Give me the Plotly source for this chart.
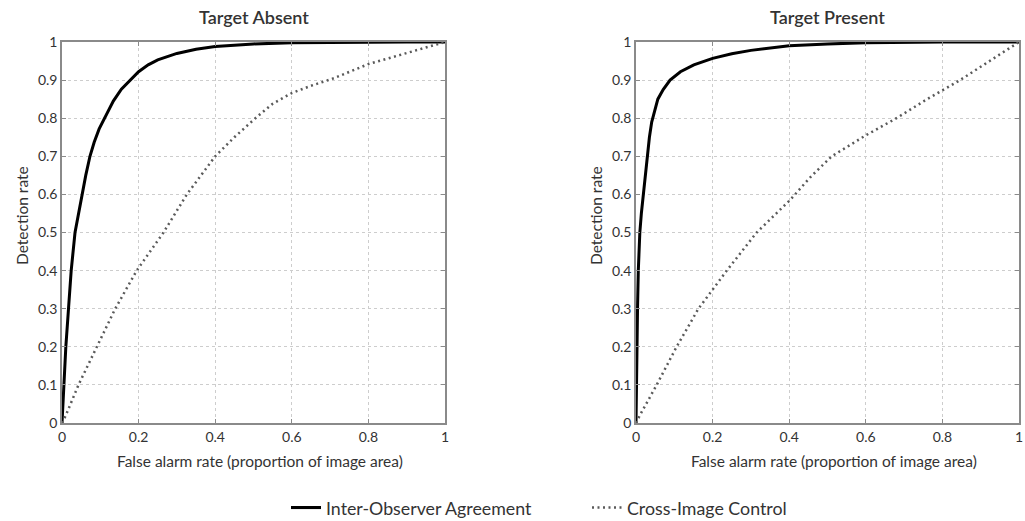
import plotly.graph_objects as go

# ---- data ----
absent_ioa_x = [0, 0.002, 0.005, 0.01, 0.017, 0.024, 0.034, 0.043, 0.052, 0.062, 0.073, 0.084, 0.097,
                0.113, 0.134, 0.155, 0.178, 0.2, 0.225, 0.25, 0.3, 0.35, 0.4, 0.5, 0.6, 0.7, 0.8, 0.9, 1.0]
absent_ioa_y = [0, 0.05, 0.1, 0.2, 0.3, 0.4, 0.5, 0.55, 0.6, 0.65, 0.7, 0.737, 0.772,
                0.805, 0.845, 0.876, 0.9, 0.922, 0.94, 0.953, 0.97, 0.981, 0.988, 0.995, 0.998, 0.999, 1.0, 1.0, 1.0]

absent_cic_x = [0, 0.01, 0.043, 0.091, 0.139, 0.195, 0.265, 0.326, 0.40, 0.45, 0.505, 0.55, 0.6,
                0.65, 0.71, 0.8, 0.9, 1.0]
absent_cic_y = [0, 0.02, 0.1, 0.2, 0.3, 0.4, 0.5, 0.6, 0.7, 0.75, 0.8, 0.838, 0.866,
                0.885, 0.905, 0.942, 0.972, 1.0]

present_ioa_x = [0, 0.001, 0.002, 0.004, 0.006, 0.010, 0.014, 0.019, 0.024, 0.030, 0.035, 0.041, 0.048,
                 0.057, 0.071, 0.089, 0.116, 0.151, 0.2, 0.25, 0.3, 0.4, 0.5, 0.6, 0.8, 1.0]
present_ioa_y = [0, 0.1, 0.2, 0.3, 0.4, 0.5, 0.55, 0.6, 0.65, 0.7, 0.75, 0.79, 0.82,
                 0.85, 0.875, 0.9, 0.922, 0.94, 0.957, 0.969, 0.978, 0.99, 0.995, 0.998, 1.0, 1.0]

present_cic_x = [0, 0.01, 0.054, 0.106, 0.163, 0.237, 0.315, 0.402, 0.455, 0.511, 0.6, 0.68, 0.76,
                 0.846, 0.92, 1.0]
present_cic_y = [0, 0.02, 0.1, 0.2, 0.3, 0.4, 0.5, 0.585, 0.645, 0.7, 0.755, 0.8, 0.85,
                 0.9, 0.948, 1.0]

panel_titles = ["Target Absent", "Target Present"]
series_names = ["Inter-Observer Agreement", "Cross-Image Control"]
x_title = "False alarm rate (proportion of image area)"
y_title = "Detection rate"
x_ticks = [0, 0.2, 0.4, 0.6, 0.8, 1]
x_ticktext = ["0", "0.2", "0.4", "0.6", "0.8", "1"]
y_ticks = [0, 0.1, 0.2, 0.3, 0.4, 0.5, 0.6, 0.7, 0.8, 0.9, 1]
y_ticktext = ["0", "0.1", "0.2", "0.3", "0.4", "0.5", "0.6", "0.7", "0.8", "0.9", "1"]

# ---- styling ----
FONT = "Lato"
TXT = "#333333"
FRAME = "#8a8a8a"
GRID = "#cdcdcd"
SOLID = dict(color="black", width=3)
DOTTED = dict(color="#5a5a5a", width=2.5, dash="2px,3.5px")

W, H = 1025, 521
def px_x(p):
    return p / W
def px_y(p):
    return (H - p) / H

PLOTS = [(62, 445), (636, 1019)]
TOP, BOT = 42, 423

fig = go.Figure()

panels = [
    ("x", "y", absent_ioa_x, absent_ioa_y, absent_cic_x, absent_cic_y, True),
    ("x2", "y2", present_ioa_x, present_ioa_y, present_cic_x, present_cic_y, False),
]
for xa, ya, sx, sy, dx, dy, showleg in panels:
    fig.add_trace(go.Scatter(x=sx, y=sy, mode="lines", line=SOLID, name=series_names[0],
                             xaxis=xa, yaxis=ya, showlegend=showleg))
    fig.add_trace(go.Scatter(x=dx, y=dy, mode="lines", line=DOTTED, name=series_names[1],
                             xaxis=xa, yaxis=ya, showlegend=showleg))

ydom = [px_y(BOT), px_y(TOP)]
common_x = dict(range=[0, 1], tickvals=x_ticks, ticktext=x_ticktext, showgrid=True,
                gridcolor=GRID, griddash="dot", gridwidth=1, showline=True, linecolor=FRAME,
                linewidth=1.5, mirror="ticks", ticks="inside", ticklen=4, tickcolor=FRAME,
                zeroline=False, automargin=False,
                tickfont=dict(family=FONT, size=14, color=TXT))
common_y = dict(range=[0, 1], tickvals=y_ticks, ticktext=y_ticktext, showgrid=True,
                gridcolor=GRID, griddash="dot", gridwidth=1, showline=True, linecolor=FRAME,
                linewidth=1.5, mirror="ticks", ticks="inside", ticklen=4, tickcolor=FRAME,
                zeroline=False, automargin=False,
                tickfont=dict(family=FONT, size=14, color=TXT))

fig.update_layout(
    width=W, height=H,
    margin=dict(l=0, r=0, t=0, b=0, autoexpand=False),
    paper_bgcolor="white", plot_bgcolor="white",
    xaxis=dict(domain=[px_x(PLOTS[0][0]), px_x(PLOTS[0][1])], anchor="y", **common_x),
    yaxis=dict(domain=ydom, anchor="x", **common_y),
    xaxis2=dict(domain=[px_x(PLOTS[1][0]), px_x(PLOTS[1][1])], anchor="y2", **common_x),
    yaxis2=dict(domain=ydom, anchor="x2", **common_y),
    showlegend=True,
    legend=dict(orientation="h", x=px_x(286), xanchor="left", y=px_y(508), yanchor="middle",
                font=dict(family=FONT, size=17.8, color=TXT), entrywidth=256,
                bgcolor="rgba(0,0,0,0)", borderwidth=0),
)

for i, t in enumerate(panel_titles):
    x0, x1 = PLOTS[i]
    cx = (x0 + x1) / 2
    fig.add_annotation(text=t, x=px_x(cx), y=px_y(17), xref="paper", yref="paper",
                       showarrow=False, xanchor="center", yanchor="middle",
                       font=dict(family=FONT, size=18, color=TXT, weight=600))
    fig.add_annotation(text=x_title, x=px_x(cx + 6), y=px_y(461), xref="paper", yref="paper",
                       showarrow=False, xanchor="center", yanchor="middle",
                       font=dict(family=FONT, size=15.5, color=TXT))
    fig.add_annotation(text=y_title, x=px_x(x0 - 40), y=px_y(216), xref="paper", yref="paper",
                       showarrow=False, xanchor="center", yanchor="middle", textangle=-90,
                       font=dict(family=FONT, size=15.5, color=TXT))

fig.write_html("out.html",
               config={"displayModeBar": False},
               post_script="document.body.style.margin='0';document.body.style.overflow='hidden';")
